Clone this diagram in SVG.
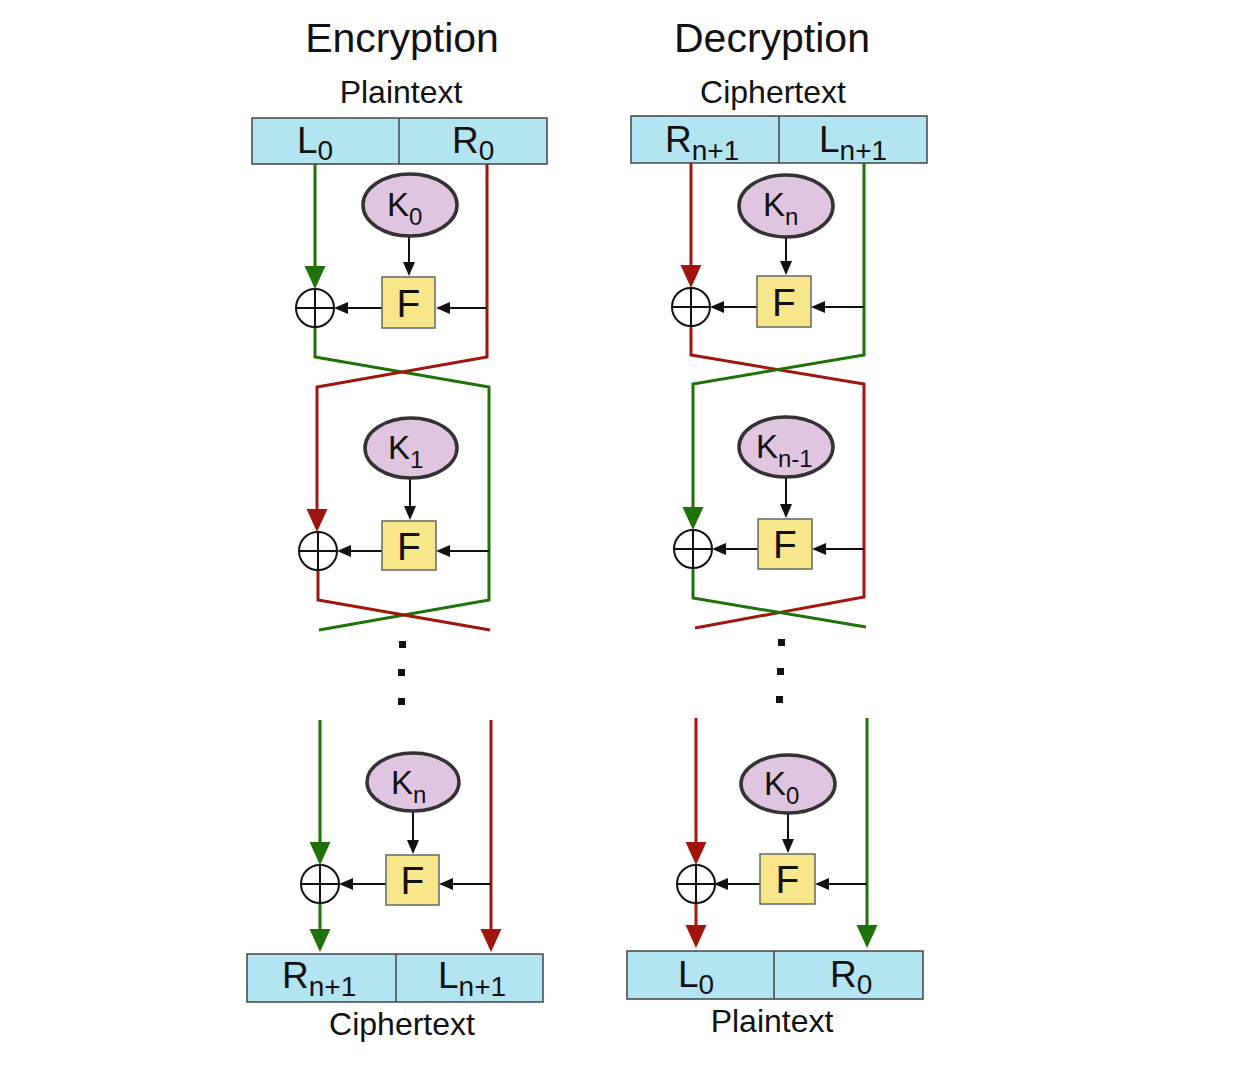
<svg xmlns="http://www.w3.org/2000/svg" width="1258" height="1079" viewBox="0 0 1258 1079">
<defs>
<style>
text{font-family:"Liberation Sans",Arial,sans-serif;fill:#111}
.title{font-size:41px;text-anchor:middle}
.cap{font-size:32px;text-anchor:middle}
.blk{fill:#b3e4f1;stroke:#444;stroke-width:1.5}
.div{stroke:#444;stroke-width:1.5}
.lab{font-size:37px}
.sub{font-size:28px}
.key{fill:#dfc5df;stroke:#333;stroke-width:3.5}
.kl{font-size:33px}
.ks{font-size:24px}
.fb{fill:#f7e68a;stroke:#666;stroke-width:1.5}
.ft{font-size:39px;text-anchor:middle}
.xor{fill:#fff;stroke:#111;stroke-width:2}
.g{fill:none;stroke:#1f7208;stroke-width:3}
.r{fill:none;stroke:#a0160e;stroke-width:3}
.k{fill:none;stroke:#111;stroke-width:2}
.dot{fill:#111}
</style>
<marker id="ag" markerUnits="userSpaceOnUse" markerWidth="24" markerHeight="22" refX="19" refY="10.5" orient="auto"><path d="M0,0 L23,10.5 L0,21 z" fill="#1f7208"/></marker>
<marker id="ar" markerUnits="userSpaceOnUse" markerWidth="24" markerHeight="22" refX="19" refY="10.5" orient="auto"><path d="M0,0 L23,10.5 L0,21 z" fill="#a0160e"/></marker>
<marker id="ak" markerUnits="userSpaceOnUse" markerWidth="15" markerHeight="13" refX="11" refY="6" orient="auto"><path d="M0,0 L14,6 L0,12 z" fill="#111"/></marker>
</defs>
<rect width="1258" height="1079" fill="#fff"/>

<g id="titles">
<text class="title" x="402" y="52">Encryption</text>
<text class="title" x="772" y="52">Decryption</text>
<text class="cap" x="401" y="103">Plaintext</text>
<text class="cap" x="773" y="103">Ciphertext</text>
<text class="cap" x="402" y="1035">Ciphertext</text>
<text class="cap" x="772" y="1032">Plaintext</text>
</g>

<g id="connectors">
<!-- encryption -->
<path class="g" d="M315,164 V285" marker-end="url(#ag)"/>
<path class="g" d="M315,327 V357 L489,387 V600 L319,630"/>
<path class="r" d="M487,164 V357 L317,387 V528" marker-end="url(#ar)"/>
<path class="r" d="M318,570 V600 L490,630"/>
<path class="k" d="M409,236 V273" marker-end="url(#ak)"/>
<path class="k" d="M487,308 H439" marker-end="url(#ak)"/>
<path class="k" d="M382,308 H337" marker-end="url(#ak)"/>
<path class="k" d="M410,478 V517" marker-end="url(#ak)"/>
<path class="k" d="M489,551 H439" marker-end="url(#ak)"/>
<path class="k" d="M382,551 H340" marker-end="url(#ak)"/>
<path class="g" d="M320,720 V861" marker-end="url(#ag)"/>
<path class="g" d="M320,903 V948" marker-end="url(#ag)"/>
<path class="r" d="M491,720 V948" marker-end="url(#ar)"/>
<path class="k" d="M413,811 V851" marker-end="url(#ak)"/>
<path class="k" d="M491,884 H442" marker-end="url(#ak)"/>
<path class="k" d="M386,884 H342" marker-end="url(#ak)"/>
<!-- decryption -->
<path class="r" d="M691,163 V284" marker-end="url(#ar)"/>
<path class="r" d="M691,326 V355 L864,384 V597 L695,628"/>
<path class="g" d="M864,163 V355 L693,384 V526" marker-end="url(#ag)"/>
<path class="g" d="M693,568 V598 L866,627"/>
<path class="k" d="M786,237 V272" marker-end="url(#ak)"/>
<path class="k" d="M864,307 H814" marker-end="url(#ak)"/>
<path class="k" d="M757,307 H713" marker-end="url(#ak)"/>
<path class="k" d="M786,477 V515" marker-end="url(#ak)"/>
<path class="k" d="M864,549 H815" marker-end="url(#ak)"/>
<path class="k" d="M758,549 H715" marker-end="url(#ak)"/>
<path class="r" d="M696,718 V861" marker-end="url(#ar)"/>
<path class="r" d="M696,903 V944" marker-end="url(#ar)"/>
<path class="g" d="M867,718 V944" marker-end="url(#ag)"/>
<path class="k" d="M788,813 V850" marker-end="url(#ak)"/>
<path class="k" d="M867,884 H818" marker-end="url(#ak)"/>
<path class="k" d="M760,884 H717" marker-end="url(#ak)"/>
</g>

<!-- Encryption nodes -->
<g id="enc-plaintext">
<rect class="blk" x="252" y="118" width="295" height="46"/>
<line class="div" x1="399" y1="118" x2="399" y2="164"/>
<text class="lab" x="297" y="153">L<tspan class="sub" dy="7">0</tspan></text>
<text class="lab" x="452" y="153">R<tspan class="sub" dy="7">0</tspan></text>
</g>
<g id="enc-k0"><ellipse class="key" cx="410" cy="205" rx="47" ry="31"/><text class="kl" x="387" y="216">K<tspan class="ks" dy="9">0</tspan></text></g>
<g id="enc-f0"><rect class="fb" x="382" y="277" width="53" height="51"/><text class="ft" x="408.5" y="317">F</text></g>
<g id="enc-xor0"><circle class="xor" cx="315" cy="308" r="19"/><path class="k" d="M296,308 H334 M315,289 V327"/></g>
<g id="enc-k1"><ellipse class="key" cx="411" cy="448" rx="46" ry="30"/><text class="kl" x="388" y="459">K<tspan class="ks" dy="9">1</tspan></text></g>
<g id="enc-f1"><rect class="fb" x="382" y="521" width="54" height="49"/><text class="ft" x="409" y="560">F</text></g>
<g id="enc-xor1"><circle class="xor" cx="318" cy="551" r="19"/><path class="k" d="M299,551 H337 M318,532 V570"/></g>
<g id="enc-dots"><rect class="dot" x="399" y="641" width="7" height="7"/><rect class="dot" x="398" y="669" width="7" height="7"/><rect class="dot" x="398" y="698" width="7" height="7"/></g>
<g id="enc-kn"><ellipse class="key" cx="413" cy="782" rx="46" ry="29"/><text class="kl" x="391" y="794">K<tspan class="ks" dy="9">n</tspan></text></g>
<g id="enc-fn"><rect class="fb" x="386" y="855" width="53" height="50"/><text class="ft" x="412.5" y="894">F</text></g>
<g id="enc-xorn"><circle class="xor" cx="320" cy="884" r="19"/><path class="k" d="M301,884 H339 M320,865 V903"/></g>
<g id="enc-ciphertext">
<rect class="blk" x="247" y="954" width="296" height="48"/>
<line class="div" x1="396" y1="954" x2="396" y2="1002"/>
<text class="lab" x="282" y="988">R<tspan class="sub" dy="8">n+1</tspan></text>
<text class="lab" x="438" y="988">L<tspan class="sub" dy="8">n+1</tspan></text>
</g>

<!-- Decryption nodes -->
<g id="dec-ciphertext">
<rect class="blk" x="631" y="116" width="296" height="47"/>
<line class="div" x1="779" y1="116" x2="779" y2="163"/>
<text class="lab" x="665" y="152">R<tspan class="sub" dy="8">n+1</tspan></text>
<text class="lab" x="819" y="152">L<tspan class="sub" dy="8">n+1</tspan></text>
</g>
<g id="dec-kn"><ellipse class="key" cx="786" cy="206" rx="47" ry="31"/><text class="kl" x="763" y="216">K<tspan class="ks" dy="9">n</tspan></text></g>
<g id="dec-f0"><rect class="fb" x="757" y="276" width="54" height="51"/><text class="ft" x="784" y="316">F</text></g>
<g id="dec-xor0"><circle class="xor" cx="691" cy="307" r="19"/><path class="k" d="M672,307 H710 M691,288 V326"/></g>
<g id="dec-kn1"><ellipse class="key" cx="786" cy="447" rx="47" ry="30"/><text class="kl" x="756" y="458">K<tspan class="ks" dy="9">n-1</tspan></text></g>
<g id="dec-f1"><rect class="fb" x="758" y="519" width="54" height="50"/><text class="ft" x="785" y="558">F</text></g>
<g id="dec-xor1"><circle class="xor" cx="693" cy="549" r="19"/><path class="k" d="M674,549 H712 M693,530 V568"/></g>
<g id="dec-dots"><rect class="dot" x="778" y="639" width="7" height="7"/><rect class="dot" x="777" y="668" width="7" height="7"/><rect class="dot" x="776" y="696" width="7" height="7"/></g>
<g id="dec-k0"><ellipse class="key" cx="788" cy="784" rx="47" ry="29"/><text class="kl" x="764" y="795">K<tspan class="ks" dy="9">0</tspan></text></g>
<g id="dec-fn"><rect class="fb" x="760" y="854" width="55" height="50"/><text class="ft" x="787.5" y="893">F</text></g>
<g id="dec-xorn"><circle class="xor" cx="696" cy="884" r="19"/><path class="k" d="M677,884 H715 M696,865 V903"/></g>
<g id="dec-plaintext">
<rect class="blk" x="627" y="951" width="296" height="48"/>
<line class="div" x1="774" y1="951" x2="774" y2="999"/>
<text class="lab" x="678" y="987">L<tspan class="sub" dy="7">0</tspan></text>
<text class="lab" x="830" y="987">R<tspan class="sub" dy="7">0</tspan></text>
</g>
</svg>
